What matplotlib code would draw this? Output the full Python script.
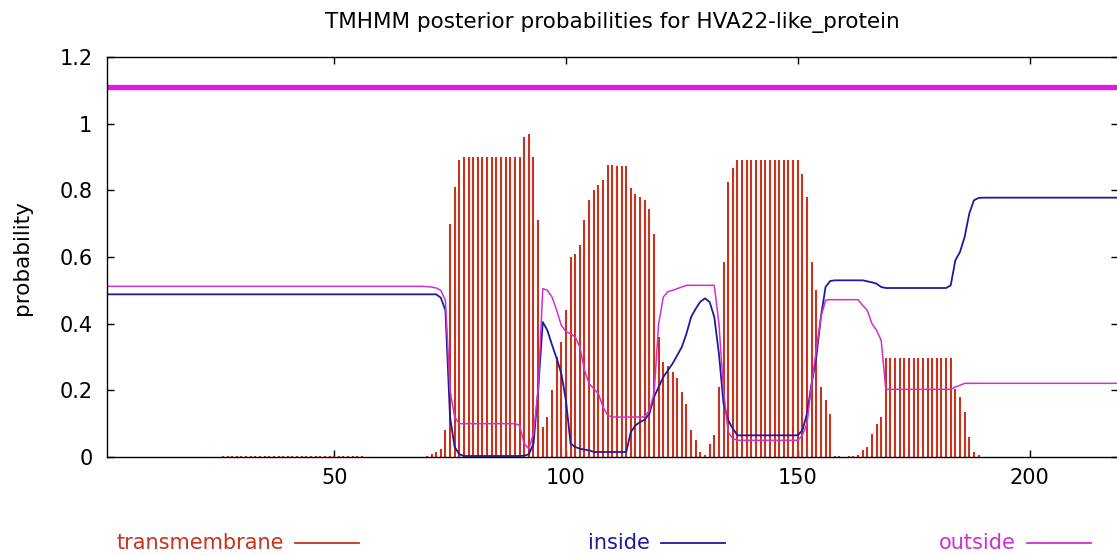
import matplotlib
matplotlib.use("Agg")
import matplotlib.pyplot as plt
import numpy as np
from matplotlib.lines import Line2D
from matplotlib.ticker import FuncFormatter

# ------------------ DATA (per residue) ------------------
protein = "HVA22-like_protein"

transmembrane = [
    0, 0, 0, 0, 0, 0, 0, 0, 0, 0,
    0, 0, 0, 0, 0, 0, 0, 0, 0, 0,
    0, 0, 0, 0, 0, .004, .004, .004, .004, .004,
    .004, .004, .004, .004, .004, .004, .004, .004, .004, .004,
    .004, .004, .004, .004, .004, .004, .004, .004, .004, .004,
    .004, .004, .004, .004, .004, .004, 0, 0, 0, 0,
    0, 0, 0, 0, 0, 0, 0, 0, 0, .004,
    .008, .015, .025, .08, .70, .81, .89, .90, .90, .90,
    .90, .90, .90, .90, .90, .90, .90, .90, .90, .90,
    .96, .97, .90, .71, .09, .12, .20, .30, .345, .44,
    .60, .61, .635, .71, .77, .80, .815, .83, .877, .877,
    .873, .873, .873, .807, .79, .78, .77, .745, .67, .36,
    .286, .273, .255, .238, .196, .16, .08, .05, .015, .005,
    .04, .065, .21, .586, .825, .867, .89, .89, .89, .89,
    .89, .89, .89, .89, .89, .89, .89, .89, .89, .89,
    .85, .78, .585, .50, .21, .17, .13, .004, .004, 0,
    .003, .004, .006, .02, .03, .068, .098, .12, .297, .297,
    .297, .297, .297, .297, .297, .297, .297, .297, .297, .297,
    .297, .297, .297, .205, .18, .135, .06, .015, .005, 0,
    0, 0, 0, 0, 0, 0, 0, 0, 0, 0,
    0, 0, 0, 0, 0, 0, 0, 0, 0, 0,
    0, 0, 0, 0, 0, 0, 0, 0, 0,
]

inside = [
    .488, .488, .488, .488, .488, .488, .488, .488, .488, .488,
    .488, .488, .488, .488, .488, .488, .488, .488, .488, .488,
    .488, .488, .488, .488, .488, .488, .488, .488, .488, .488,
    .488, .488, .488, .488, .488, .488, .488, .488, .488, .488,
    .488, .488, .488, .488, .488, .488, .488, .488, .488, .488,
    .488, .488, .488, .488, .488, .488, .488, .488, .488, .488,
    .488, .488, .488, .488, .488, .488, .488, .488, .488, .488,
    .488, .488, .478, .44, .12, .03, .008, .003, .003, .003,
    .003, .003, .003, .003, .003, .003, .003, .003, .003, .003,
    .004, .008, .04, .20, .405, .38, .336, .296, .25, .17,
    .04, .03, .025, .022, .02, .015, .015, .015, .015, .015,
    .015, .015, .015, .075, .095, .105, .112, .13, .18, .21,
    .24, .26, .28, .305, .33, .37, .42, .445, .466, .476,
    .465, .42, .31, .16, .11, .085, .065, .065, .065, .065,
    .065, .065, .065, .065, .065, .065, .065, .065, .065, .065,
    .08, .13, .22, .30, .42, .51, .528, .53, .53, .53,
    .53, .53, .53, .53, .527, .524, .52, .51, .507, .507,
    .507, .507, .507, .507, .507, .507, .507, .507, .507, .507,
    .507, .507, .515, .59, .615, .66, .73, .77, .777, .778,
    .778, .778, .778, .778, .778, .778, .778, .778, .778, .778,
    .778, .778, .778, .778, .778, .778, .778, .778, .778, .778,
    .778, .778, .778, .778, .778, .778, .778, .778, .778,
]

outside = [
    .512, .512, .512, .512, .512, .512, .512, .512, .512, .512,
    .512, .512, .512, .512, .512, .512, .512, .512, .512, .512,
    .512, .512, .512, .512, .512, .512, .512, .512, .512, .512,
    .512, .512, .512, .512, .512, .512, .512, .512, .512, .512,
    .512, .512, .512, .512, .512, .512, .512, .512, .512, .512,
    .512, .512, .512, .512, .512, .512, .512, .512, .512, .512,
    .512, .512, .512, .512, .512, .512, .512, .512, .512, .511,
    .51, .507, .50, .47, .20, .12, .10, .10, .10, .10,
    .10, .10, .10, .10, .10, .10, .10, .10, .10, .095,
    .04, .025, .07, .20, .505, .50, .48, .44, .395, .376,
    .37, .36, .33, .26, .22, .205, .19, .15, .125, .12,
    .12, .12, .12, .12, .12, .12, .12, .14, .19, .40,
    .48, .496, .50, .505, .51, .515, .515, .515, .515, .515,
    .515, .515, .40, .20, .075, .055, .05, .05, .05, .05,
    .05, .05, .05, .05, .05, .05, .05, .05, .05, .05,
    .065, .10, .22, .32, .42, .47, .472, .472, .472, .472,
    .472, .472, .472, .455, .44, .40, .38, .35, .203, .203,
    .203, .203, .203, .203, .203, .203, .203, .203, .203, .203,
    .203, .203, .203, .21, .215, .221, .221, .221, .221, .221,
    .221, .221, .221, .221, .221, .221, .221, .221, .221, .221,
    .221, .221, .221, .221, .221, .221, .221, .221, .221, .221,
    .221, .221, .221, .221, .221, .221, .221, .221, .221,
]

# predicted topology (drawn as the thick bar above the plot)
topology = [("outside", 1, 219)]

x_ticks = [50, 100, 150, 200]
y_ticks = [0, 0.2, 0.4, 0.6, 0.8, 1.0, 1.2]

# ------------------ STYLE ------------------
RED = "#c8321e"
BLUE = "#1c1ca0"
MAGENTA = "#d030d0"
TOPO = {"outside": "#e418e4", "inside": BLUE}

plt.rcParams.update({
    "font.family": "DejaVu Sans",
    "font.size": 15,
})

W, H = 1117, 556
fig = plt.figure(figsize=(W / 100, H / 100), dpi=100)
ax = fig.add_axes([107 / W, 1 - 457 / H, 1010.6 / W, 400 / H])

res = np.arange(1, len(transmembrane) + 1)

ax.vlines(res, 0, transmembrane, color=RED, lw=1.5)
ax.plot(res, inside, color=BLUE, lw=1.3)
ax.plot(res, outside, color=MAGENTA, lw=1.1)
for kind, start, end in topology:
    ax.hlines(1.11, start, end, color=TOPO[kind], lw=3.8)

ax.set_xlim(1, len(transmembrane))
ax.set_ylim(0, 1.2)
ax.set_xticks(x_ticks)
ax.set_yticks(y_ticks)
ax.yaxis.set_major_formatter(FuncFormatter(lambda v, p: f"{v:g}"))
ax.tick_params(direction="in", length=5, width=1, top=True, right=True,
               labelsize=15, colors="black")
ax.tick_params(axis="x", pad=8)
ax.tick_params(axis="y", pad=10.5)
for s in ax.spines.values():
    s.set_linewidth(1.0)

fig.text(612 / W, 1 - 28 / H, f"TMHMM posterior probabilities for {protein}",
         ha="center", va="baseline", fontsize=15.5)
fig.text(22 / W, 1 - 258 / H, "probability", rotation=90,
         ha="center", va="center", fontsize=15.5)

# gnuplot-style key below the plot
legend_items = [("transmembrane", RED, 284), ("inside", BLUE, 650), ("outside", MAGENTA, 1016)]
ly = 1 - 543 / H
for label, col, xr in legend_items:
    fig.text(xr / W, ly, label, color=col, ha="right", va="center", fontsize=15)
    fig.add_artist(Line2D([(xr + 11) / W, (xr + 75) / W], [ly, ly],
                          transform=fig.transFigure, color=col, lw=1.3))

fig.savefig("out.png", dpi=100)
